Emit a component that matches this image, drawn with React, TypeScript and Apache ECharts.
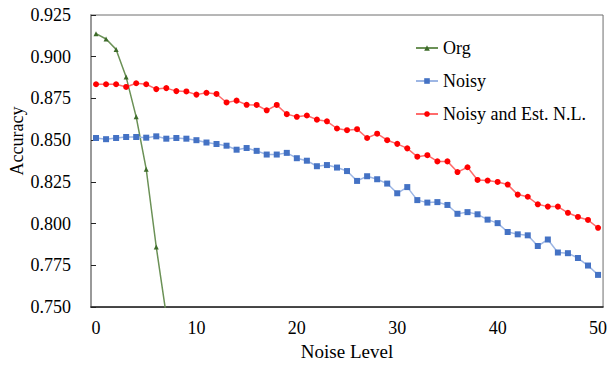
import React, { useEffect, useRef } from "react";
import * as echarts from "echarts";

const noiseLevels: string[] = Array.from({ length: 51 }, (_, i) => String(i));

const orgValues: number[] = [0.9138, 0.9106, 0.9044, 0.8878, 0.864, 0.8326, 0.786, 0.745];

const noisyValues: number[] = [
  0.8513, 0.8506, 0.8513, 0.8519, 0.8519, 0.8515, 0.8523, 0.8509, 0.8513, 0.8509,
  0.85, 0.8486, 0.8477, 0.8467, 0.8443, 0.8453, 0.8436, 0.8414, 0.8414, 0.8424,
  0.8392, 0.8377, 0.8344, 0.8351, 0.8336, 0.8315, 0.8256, 0.8284, 0.8266, 0.824,
  0.8182, 0.8219, 0.8141, 0.8126, 0.8129, 0.8112, 0.8059, 0.8069, 0.8056, 0.8024,
  0.8003, 0.795, 0.7936, 0.793, 0.7866, 0.7905, 0.7827, 0.7823, 0.7794, 0.7749,
  0.7693,
];

const noisyEstValues: number[] = [
  0.8835, 0.8835, 0.8835, 0.8819, 0.8841, 0.8835, 0.8806, 0.8812, 0.8794, 0.8792,
  0.8773, 0.8784, 0.8777, 0.8726, 0.8737, 0.8712, 0.8711, 0.8679, 0.8711, 0.8656,
  0.864, 0.8648, 0.8623, 0.8613, 0.857, 0.856, 0.8566, 0.8513, 0.8539, 0.85,
  0.8478, 0.8451, 0.8401, 0.841, 0.8373, 0.8373, 0.8309, 0.8338, 0.8262, 0.8258,
  0.825, 0.8234, 0.8174, 0.8161, 0.8116, 0.8102, 0.8102, 0.8065, 0.804, 0.8022,
  0.7975,
];

const seriesNames = ["Org", "Noisy", "Noisy and Est. N.L."];

const FONT = "Liberation Serif";

export default function App() {
  const ref = useRef<HTMLDivElement>(null);

  useEffect(() => {
    if (!ref.current) return;
    const chart = echarts.init(ref.current, undefined, { renderer: "svg" });
    chart.setOption({
      animation: false,
      backgroundColor: "#ffffff",
      textStyle: { fontFamily: FONT },
      grid: {
        left: 91,
        right: 3,
        top: 15,
        bottom: 53,
        show: true,
        borderColor: "#6e6e6e",
        borderWidth: 1,
        backgroundColor: "transparent",
      },
      legend: {
        orient: "vertical",
        left: 415,
        top: 39,
        padding: 0,
        itemGap: 15,
        itemWidth: 22,
        itemHeight: 7,
        data: seriesNames,
        textStyle: { fontFamily: FONT, fontSize: 18, color: "#000" },
      },
      graphic: [
        {
          type: "text",
          x: 17,
          y: 141,
          rotation: Math.PI / 2,
          style: {
            text: "Accuracy",
            fontFamily: FONT,
            fontSize: 18,
            fill: "#000",
            align: "center",
            verticalAlign: "middle",
          },
        },
      ],
      xAxis: {
        type: "category",
        data: noiseLevels,
        boundaryGap: true,
        name: "Noise Level",
        nameLocation: "middle",
        nameGap: 30,
        nameTextStyle: { fontFamily: FONT, fontSize: 19, color: "#000" },
        axisLine: { lineStyle: { color: "#222", width: 1.5 } },
        axisTick: { inside: true, length: 5, interval: 9, lineStyle: { color: "#222" } },
        axisLabel: {
          interval: 9,
          margin: 12,
          fontFamily: FONT,
          fontSize: 18,
          color: "#000",
        },
        splitLine: { show: false },
      },
      yAxis: {
        type: "value",
        min: 0.75,
        max: 0.925,
        interval: 0.025,
        axisLine: { show: true, lineStyle: { color: "#999", width: 2 } },
        axisTick: { show: true, inside: true, length: 5, lineStyle: { color: "#222" } },
        axisLabel: {
          margin: 20,
          fontFamily: FONT,
          fontSize: 18,
          color: "#000",
          formatter: (v: number) => v.toFixed(3),
        },
        splitLine: { show: false },
      },
      series: [
        {
          name: seriesNames[0],
          type: "line",
          data: orgValues,
          symbol: "triangle",
          symbolSize: 5,
          clip: true,
          itemStyle: { color: "#3d6b2a" },
          lineStyle: { color: "#6b9156", width: 1.5 },
        },
        {
          name: seriesNames[1],
          type: "line",
          data: noisyValues,
          symbol: "rect",
          symbolSize: 6,
          itemStyle: { color: "#4472c4" },
          lineStyle: { color: "#9db6e4", width: 1.5 },
        },
        {
          name: seriesNames[2],
          type: "line",
          data: noisyEstValues,
          symbol: "circle",
          symbolSize: 6,
          itemStyle: { color: "#ff0000" },
          lineStyle: { color: "#ff6b6b", width: 1.5 },
        },
      ],
    });
    return () => chart.dispose();
  }, []);

  return (
    <div
      ref={ref}
      style={{ position: "absolute", left: 0, top: 0, width: 610, height: 366 }}
    />
  );
}
